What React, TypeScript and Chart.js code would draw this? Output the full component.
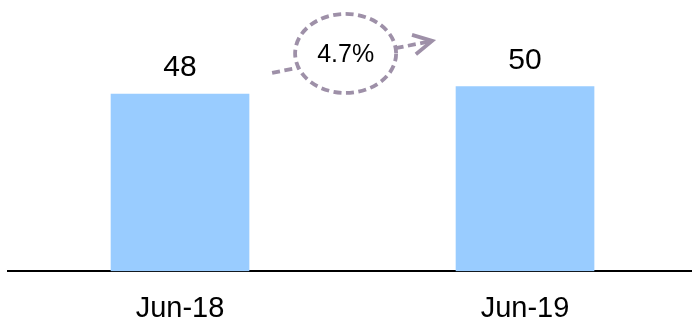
import React, { useEffect, useRef } from "react";
import { Chart, registerables } from "chart.js";

Chart.register(...registerables);

const categories = ["Jun-18", "Jun-19"];
const values = [48, 50];
const growthLabel = "4.7%";

const FONT = "Arial, 'Liberation Sans', sans-serif";

const annotationPlugin = {
  id: "growthAnnotation",
  afterDatasetsDraw(chart: any) {
    const { ctx, scales } = chart;
    const meta = chart.getDatasetMeta(0);
    // value labels
    ctx.save();
    ctx.fillStyle = "#000";
    ctx.font = `30px ${FONT}`;
    ctx.textAlign = "center";
    ctx.textBaseline = "alphabetic";
    meta.data.forEach((bar: any, i: number) => {
      ctx.fillText(String(values[i]), bar.x, bar.y - 18);
    });
    ctx.restore();

    // ellipse + arrow
    const cx = scales.x.getPixelForValue(0.48);
    const cy = scales.y.getPixelForValue(59);
    const rx = 50.5;
    const ry = 39.5;
    const color = "#9e90a8";
    const sx = cx - 73.5, sy = cy + 19.5;
    const tx = cx + 86.5, ty = cy - 12.5;

    const inside = (t: number) => {
      const x = sx + (tx - sx) * t - cx;
      const y = sy + (ty - sy) * t - cy;
      return (x / rx) ** 2 + (y / ry) ** 2 <= 1;
    };
    let t1 = 0, t2 = 1;
    for (let t = 0; t <= 1; t += 0.001) { if (inside(t)) { t1 = t; break; } }
    for (let t = 1; t >= 0; t -= 0.001) { if (inside(t)) { t2 = t; break; } }

    ctx.save();
    ctx.strokeStyle = color;
    ctx.lineWidth = 3.8;
    ctx.setLineDash([8, 4.5]);
    ctx.beginPath();
    ctx.ellipse(cx, cy, rx, ry, 0, 0, Math.PI * 2);
    ctx.stroke();

    ctx.beginPath();
    ctx.moveTo(sx, sy);
    ctx.lineTo(sx + (tx - sx) * t1, sy + (ty - sy) * t1);
    ctx.stroke();
    ctx.beginPath();
    ctx.moveTo(sx + (tx - sx) * t2, sy + (ty - sy) * t2);
    ctx.lineTo(tx, ty);
    ctx.stroke();

    ctx.setLineDash([]);
    const back = Math.atan2(sy - ty, sx - tx);
    const len = 21;
    const spread = (28 * Math.PI) / 180;
    ctx.beginPath();
    ctx.moveTo(tx + len * Math.cos(back - spread), ty + len * Math.sin(back - spread));
    ctx.lineTo(tx, ty);
    ctx.lineTo(tx + len * Math.cos(back + spread), ty + len * Math.sin(back + spread));
    ctx.stroke();

    ctx.fillStyle = "#000";
    ctx.font = `25px ${FONT}`;
    ctx.textAlign = "center";
    ctx.textBaseline = "middle";
    ctx.fillText(growthLabel, cx, cy + 2);
    ctx.restore();
  },
};

export default function App() {
  const canvasRef = useRef<HTMLCanvasElement | null>(null);

  useEffect(() => {
    if (!canvasRef.current) return;
    const chart = new Chart(canvasRef.current, {
      type: "bar",
      data: {
        datasets: [
          {
            data: values.map((v, i) => ({ x: i, y: v })),
            backgroundColor: "#99ccff",
            borderWidth: 0,
            barThickness: 138,
          },
        ],
      },
      options: {
        animation: false,
        responsive: true,
        maintainAspectRatio: false,
        layout: { padding: { top: 8, left: 8, right: 0, bottom: -22 } },
        plugins: { legend: { display: false }, tooltip: { enabled: false } },
        scales: {
          x: {
            type: "linear",
            offset: false,
            min: -0.4986,
            max: 1.484,
            grid: { display: false, drawTicks: false, offset: false },
            border: { display: true, color: "#000", width: 2 },
            afterBuildTicks: (scale: any) => {
              scale.ticks = categories.map((_, i) => ({ value: i }));
            },
            ticks: {
              padding: 20,
              color: "#000",
              font: { family: FONT, size: 29 },
              maxRotation: 0,
              autoSkip: false,
              callback: (v: any) => categories[v as number] ?? "",
            },
          },
          y: {
            display: false,
            min: 0,
            max: 71.3,
          },
        },
      },
      plugins: [annotationPlugin],
    } as any);
    return () => chart.destroy();
  }, []);

  return (
    <div style={{ position: "absolute", left: 0, top: 0, width: 692, height: 324 }}>
      <canvas ref={canvasRef} />
    </div>
  );
}
